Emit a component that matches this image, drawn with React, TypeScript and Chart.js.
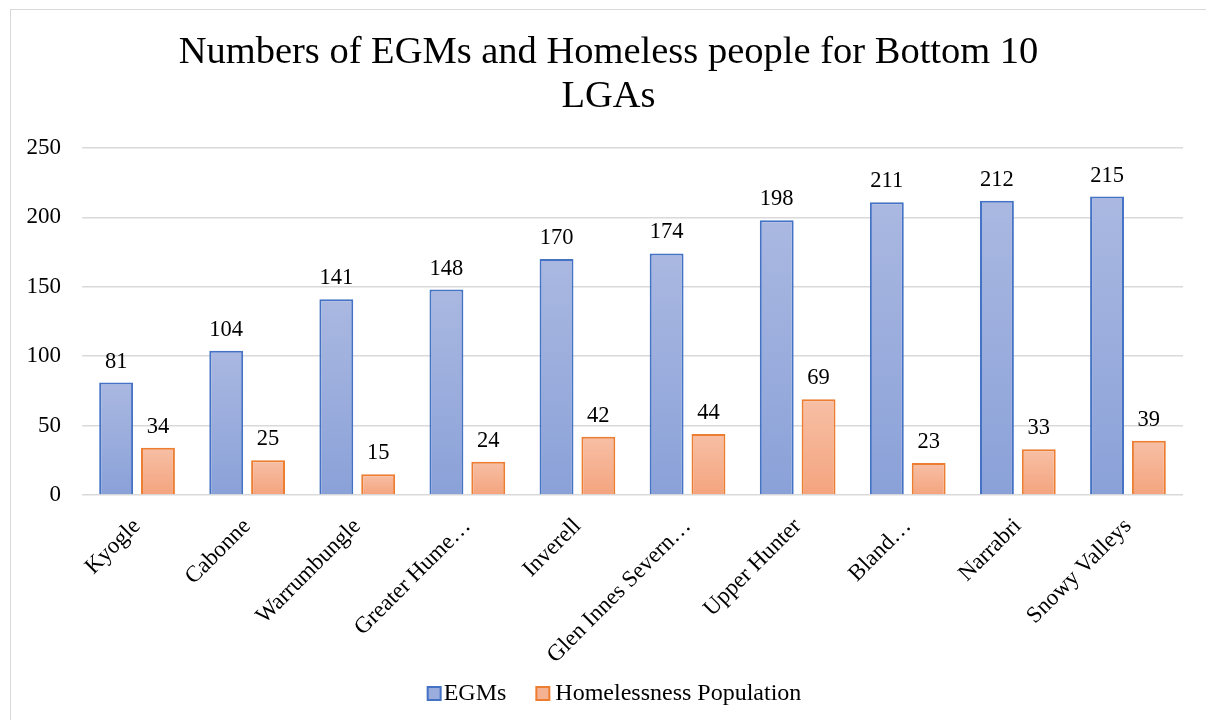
import React, { useEffect, useRef } from "react";
import { Chart, registerables } from "chart.js";

Chart.register(...registerables);

const categories = [
  "Kyogle",
  "Cabonne",
  "Warrumbungle",
  "Greater Hume…",
  "Inverell",
  "Glen Innes Severn…",
  "Upper Hunter",
  "Bland…",
  "Narrabri",
  "Snowy Valleys",
];
const egms = [81, 104, 141, 148, 170, 174, 198, 211, 212, 215];
const homeless = [34, 25, 15, 24, 42, 44, 69, 23, 33, 39];
const seriesNames = ["EGMs", "Homelessness Population"];
const titleLines = ["Numbers of EGMs and Homeless people for Bottom 10", "LGAs"];
const yMin = 0;
const yMax = 250;
const yStep = 50;

const FONT = '"Liberation Serif", "Times New Roman", serif';

const seriesStyles = [
  { top: "#aab8e1", bottom: "#8aa1d8", legend: "#9aaddc", border: "#4472c4" },
  { top: "#f7bfa5", bottom: "#f4a47e", legend: "#f5b293", border: "#ed7d31" },
];

function barGradient(top: string, bottom: string) {
  return (ctx: any) => {
    const chart = ctx.chart;
    if (!chart.chartArea || ctx.type !== "data") return bottom;
    const y = chart.scales.y;
    const yTop = y.getPixelForValue(ctx.raw as number);
    const yBase = y.getPixelForValue(0);
    if (!isFinite(yTop) || !isFinite(yBase) || yTop === yBase) return bottom;
    const g = chart.ctx.createLinearGradient(0, yTop, 0, yBase);
    g.addColorStop(0, top);
    g.addColorStop(1, bottom);
    return g;
  };
}

const valueLabels = {
  id: "valueLabels",
  afterDatasetsDraw(chart: any) {
    const ctx = chart.ctx;
    ctx.save();
    ctx.font = `22.5px ${FONT}`;
    ctx.fillStyle = "#000";
    ctx.textAlign = "center";
    ctx.textBaseline = "alphabetic";
    chart.data.datasets.forEach((ds: any, i: number) => {
      const meta = chart.getDatasetMeta(i);
      meta.data.forEach((bar: any, j: number) => {
        ctx.fillText(String(ds.data[j]), bar.x, bar.y - 15);
      });
    });
    ctx.restore();
  },
};

const titleAndLegend = {
  id: "titleAndLegend",
  afterDraw(chart: any) {
    const ctx = chart.ctx;
    const cx = chart.width / 2;
    ctx.save();
    // title
    ctx.font = `38.5px ${FONT}`;
    ctx.fillStyle = "#000";
    ctx.textAlign = "center";
    ctx.textBaseline = "alphabetic";
    ctx.fillText(titleLines[0], cx, 53);
    ctx.fillText(titleLines[1], cx, 97);
    // legend
    ctx.font = `24px ${FONT}`;
    ctx.textAlign = "left";
    const box = 13;
    const gapBoxText = 3;
    const gapItems = 30;
    const w0 = ctx.measureText(seriesNames[0]).width;
    const w1 = ctx.measureText(seriesNames[1]).width;
    const total = box + gapBoxText + w0 + gapItems + box + gapBoxText + 3 + w1;
    let x = cx + 6 - total / 2;
    const baseY = 690;
    const boxTop = 677;
    seriesNames.forEach((name, i) => {
      const st = seriesStyles[i];
      ctx.fillStyle = st.legend;
      ctx.fillRect(x, boxTop, box, box);
      ctx.strokeStyle = st.border;
      ctx.lineWidth = 2;
      ctx.strokeRect(x, boxTop, box, box);
      x += box + gapBoxText + (i === 1 ? 3 : 0);
      ctx.fillStyle = "#000";
      ctx.fillText(name, x, baseY);
      x += (i === 0 ? w0 : w1) + gapItems;
    });
    ctx.restore();
  },
};

export default function App() {
  const ref = useRef<HTMLCanvasElement | null>(null);
  useEffect(() => {
    if (!ref.current) return;
    const chart = new Chart(ref.current, {
      type: "bar",
      data: {
        labels: categories,
        datasets: seriesNames.map((name, i) => ({
          label: name,
          data: i === 0 ? egms : homeless,
          backgroundColor: barGradient(seriesStyles[i].top, seriesStyles[i].bottom),
          borderColor: seriesStyles[i].border,
          borderWidth: 2,
          barPercentage: 0.81,
          categoryPercentage: 0.76,
        })),
      },
      options: {
        animation: false,
        responsive: true,
        maintainAspectRatio: false,
        layout: { padding: { left: 0, right: 23, top: 138, bottom: 59 } },
        plugins: {
          title: { display: false },
          legend: { display: false },
          tooltip: { enabled: false },
        },
        scales: {
          x: {
            grid: { display: false, drawTicks: false },
            border: { display: false },
            ticks: {
              color: "#000",
              font: { family: FONT, size: 23 },
              minRotation: 45,
              maxRotation: 45,
              autoSkip: false,
              padding: 18,
            },
            afterFit: (s: any) => {
              s.height = 166;
            },
          },
          y: {
            min: yMin,
            max: yMax,
            grid: { color: "#d9d9d9", lineWidth: 1.5, drawTicks: false },
            border: { display: false },
            ticks: {
              stepSize: yStep,
              color: "#000",
              font: { family: FONT, size: 23 },
              padding: 21,
            },
            afterFit: (s: any) => {
              s.width = 71;
            },
          },
        },
      },
      plugins: [valueLabels, titleAndLegend],
    });
    return () => chart.destroy();
  }, []);

  return (
    <div
      style={{
        position: "absolute",
        left: 10,
        top: 9,
        width: 1196,
        height: 711,
        boxSizing: "border-box",
        borderTop: "1px solid #d9d9d9",
        borderLeft: "1px solid #d9d9d9",
        background: "#fff",
      }}
    >
      <div style={{ position: "relative", width: "100%", height: "100%" }}>
        <canvas ref={ref} />
      </div>
    </div>
  );
}
